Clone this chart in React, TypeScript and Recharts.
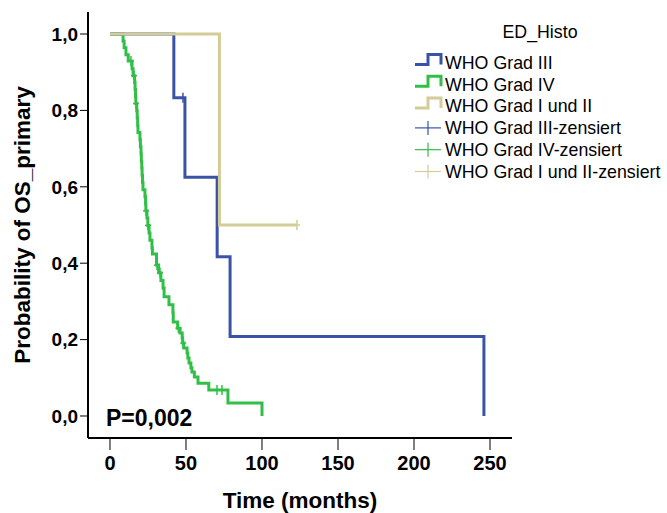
import React from 'react';
import { ComposedChart, Line, Scatter, XAxis, YAxis } from 'recharts';

// Kaplan-Meier estimates of overall survival by WHO grade (time in months)
const gradeIIITimes = [0, 42, 49.3, 70.5, 79, 246];
const gradeIIISurv = [1, 0.833, 0.625, 0.417, 0.208, 0];
const gradeIIICensTimes = [48];
const gradeIIICensSurv = [0.833];

const gradeIVTimes = [
  0, 8.6, 9.3, 10.5, 12.0, 14.5, 15.2, 16.2, 16.5, 16.8, 17.0, 17.6, 17.9, 18.2, 18.4,
  19.7, 20.0, 20.4, 20.6, 20.9, 21.1, 21.4, 21.7, 23.0, 23.4, 23.6, 24.3, 24.9, 25.7,
  26.3, 27.6, 27.9, 30.6, 32.0, 33.5, 34.9, 35.6, 38.8, 41.4, 41.6, 44.5, 46.1, 47.5,
  47.8, 48.5, 50.7, 51.2, 52.0, 53.2, 53.9, 55.5, 57.9, 65.0, 77.6, 100,
];
const gradeIVSurv = [
  1, 0.982, 0.964, 0.946, 0.929, 0.909, 0.891, 0.873, 0.855, 0.836, 0.818, 0.799, 0.78, 0.761, 0.742,
  0.723, 0.705, 0.686, 0.667, 0.649, 0.63, 0.611, 0.592, 0.574, 0.555, 0.537, 0.518, 0.499, 0.479,
  0.46, 0.44, 0.424, 0.395, 0.375, 0.355, 0.335, 0.312, 0.291, 0.27, 0.246, 0.23, 0.217, 0.204,
  0.191, 0.178, 0.165, 0.152, 0.139, 0.126, 0.115, 0.102, 0.086, 0.068, 0.034, 0,
];
const gradeIVCensTimes = [13.8, 15.8, 17.1, 23.7, 25.0, 30.9, 32.9, 45.0, 48.2, 70.4, 73.7];
const gradeIVCensSurv = [0.929, 0.891, 0.818, 0.537, 0.499, 0.395, 0.375, 0.23, 0.191, 0.068, 0.068];

const gradeLowTimes = [0, 72, 123];
const gradeLowSurv = [1, 0.5, 0.5];
const gradeLowCensTimes = [123];
const gradeLowCensSurv = [0.5];

const xTicks = [0, 50, 100, 150, 200, 250];
const yTicks = [0, 0.2, 0.4, 0.6, 0.8, 1.0];

const legendTitle = 'ED_Histo';
const legendLabels = [
  'WHO Grad III',
  'WHO Grad IV',
  'WHO Grad I und II',
  'WHO Grad III-zensiert',
  'WHO Grad IV-zensiert',
  'WHO Grad I und II-zensiert',
];
const pValueText = 'P=0,002';
const xTitle = 'Time (months)';
const yTitle = 'Probability of OS_primary';

const BLUE = '#3a53a6';
const GREEN = '#31bf47';
const TAN = '#d3cc96';
const FONT = "Arial, 'Liberation Sans', sans-serif";

const toPoints = (t: number[], s: number[]) => t.map((v, i) => ({ t: v, s: s[i] }));

const seriesIII = toPoints(gradeIIITimes, gradeIIISurv);
const seriesIV = toPoints(gradeIVTimes, gradeIVSurv);
const seriesLow = toPoints(gradeLowTimes, gradeLowSurv);
const censIII = toPoints(gradeIIICensTimes, gradeIIICensSurv);
const censIV = toPoints(gradeIVCensTimes, gradeIVCensSurv);
const censLow = toPoints(gradeLowCensTimes, gradeLowCensSurv);

const makeCensor = (color: string) => (props: any) => {
  const { cx, cy } = props;
  if (cx == null || cy == null) return <g />;
  return (
    <g>
      <line x1={cx} x2={cx} y1={cy - 5} y2={cy + 5} stroke={color} strokeWidth={1.5} />
      <line x1={cx - 3} x2={cx + 3} y1={cy} y2={cy} stroke={color} strokeWidth={1.5} />
    </g>
  );
};

const legendColors = [BLUE, GREEN, TAN, BLUE, GREEN, TAN];

function Annotations() {
  const rowY = [62.5, 84.3, 106.1, 127.9, 149.7, 171.5];
  const fs = 17.8;
  return (
    <svg width={667} height={513} style={{ position: 'absolute', left: 0, top: 0, pointerEvents: 'none' }}>
      <text x={540} y={32 + 0.358 * fs} textAnchor="middle" fontFamily={FONT} fontSize={fs} fill="#000">
        {legendTitle}
      </text>
      {legendLabels.map((lab, i) => {
        const c = rowY[i];
        const col = legendColors[i];
        return (
          <g key={lab}>
            {i < 3 ? (
              <path
                d={`M415,${c + 2} H428 V${c - 8} H441 V${c + 2}`}
                fill="none"
                stroke={col}
                strokeWidth={3}
              />
            ) : (
              <g>
                <line x1={415} x2={441} y1={c} y2={c} stroke={col} strokeWidth={1.2} />
                <line x1={428} x2={428} y1={c - 7} y2={c + 7} stroke={col} strokeWidth={1.2} />
              </g>
            )}
            <text x={445} y={c + 0.358 * fs} fontFamily={FONT} fontSize={fs} fill="#000">
              {lab}
            </text>
          </g>
        );
      })}
      <text x={106} y={418 + 0.358 * 23} fontFamily={FONT} fontSize={23} fontWeight="bold" fill="#000">
        {pValueText}
      </text>
      <text x={300} y={500 + 0.358 * 22.5} textAnchor="middle" fontFamily={FONT} fontSize={22.5} fontWeight="bold" fill="#000">
        {xTitle}
      </text>
      <text
        x={0}
        y={0}
        transform={`translate(30,225) rotate(-90)`}
        textAnchor="middle"
        fontFamily={FONT}
        fontSize={22.5}
        fontWeight="bold"
        fill="#000"
      >
        {yTitle}
      </text>
    </svg>
  );
}

export default function App() {
  return (
    <div style={{ position: 'absolute', left: 0, top: 0, width: 667, height: 513, background: '#fff' }}>
      <ComposedChart width={667} height={513} margin={{ top: 12, right: 155, bottom: 15, left: 0 }}>
        <XAxis
          type="number"
          dataKey="t"
          domain={[-14.47, 264.47]}
          ticks={xTicks}
          allowDataOverflow
          height={60}
          axisLine={{ stroke: '#000', strokeWidth: 2 }}
          tickLine={{ stroke: '#000', strokeWidth: 1 }}
          tickSize={12}
          tickMargin={6}
          tick={{ fill: '#000', fontSize: 20, fontWeight: 'bold', fontFamily: FONT }}
        />
        <YAxis
          type="number"
          dataKey="s"
          domain={[-0.0576, 1.0576]}
          ticks={yTicks}
          allowDataOverflow
          width={88}
          axisLine={{ stroke: '#000', strokeWidth: 2 }}
          tickLine={{ stroke: '#000', strokeWidth: 1 }}
          tickSize={8}
          tickMargin={2}
          tickFormatter={(v: number) => v.toFixed(1).replace('.', ',')}
          tick={{ fill: '#000', fontSize: 19, fontWeight: 'bold', fontFamily: FONT }}
        />
        <Line data={seriesIV} dataKey="s" type="stepAfter" stroke={GREEN} strokeWidth={3} dot={false} isAnimationActive={false} />
        <Line data={seriesIII} dataKey="s" type="stepAfter" stroke={BLUE} strokeWidth={3} dot={false} isAnimationActive={false} />
        <Line data={seriesLow} dataKey="s" type="stepAfter" stroke={TAN} strokeWidth={3} dot={false} isAnimationActive={false} />
        <Scatter data={censIV} dataKey="s" shape={makeCensor(GREEN)} isAnimationActive={false} />
        <Scatter data={censIII} dataKey="s" shape={makeCensor(BLUE)} isAnimationActive={false} />
        <Scatter data={censLow} dataKey="s" shape={makeCensor(TAN)} isAnimationActive={false} />
      </ComposedChart>
      <Annotations />
    </div>
  );
}
